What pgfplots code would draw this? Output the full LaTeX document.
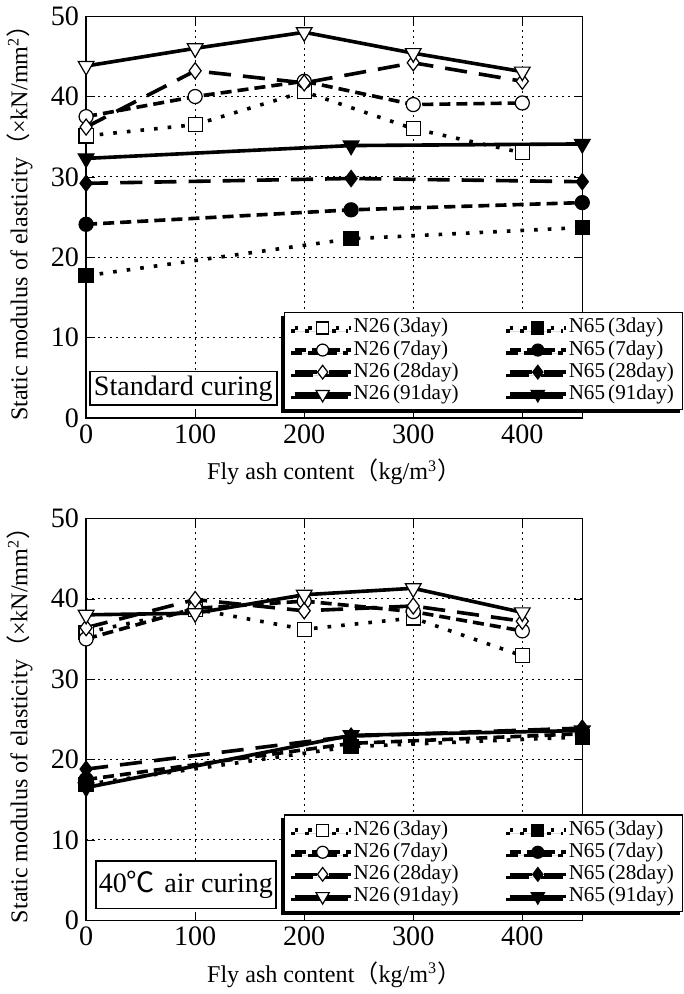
\documentclass[border=0pt]{standalone}
\usepackage{pgfplots}
\pgfplotsset{compat=1.18}
\usepackage{fontspec}
\setmainfont{Liberation Serif}
\newfontfamily\cjk{Noto Sans CJK JP}
\usetikzlibrary{shadows}

\newcommand{\lt}[2]{N#1\hspace{0.15em}(#2day)}

\pgfplotsset{
  s3/.style={black, line width=1.8pt, dash pattern=on 1.8pt off 5pt},
  s7/.style={black, line width=1.8pt, dash pattern=on 5.5pt off 3pt},
  s28/.style={black, line width=1.8pt, dash pattern=on 11pt off 6pt},
  s91/.style={black, line width=1.8pt, solid},
  open/.style={mark options={solid, line width=0.6pt, draw=black, fill=white}},
  full/.style={mark options={solid, line width=0.6pt, draw=black, fill=black}},
  opentri/.style={mark options={solid, line width=0.6pt, draw=black, fill=white, rotate=180}},
  fulltri/.style={mark options={solid, line width=0.6pt, draw=black, fill=black, rotate=180}},
  panel/.style={
    scale only axis,
    width=247pt, height=200pt,
    xmin=0, xmax=455, ymin=0, ymax=50,
    xtick={0,100,200,300,400},
    ytick={0,10,20,30,40,50},
    grid=major,
    major grid style={black, line width=0.5pt, dash pattern=on 1pt off 2pt},
    axis line style={black, line width=0.6pt},
    tick style={black},
    tick align=inside,
    /pgf/number format/assume math mode=true,
    tick label style={font=\fontsize{14}{16}\selectfont},
    label style={font=\fontsize{12}{14}\selectfont},
    xlabel={Fly ash content{\cjk （}kg/m\textsuperscript{3}{\cjk ）}},
    ylabel={Static modulus of elasticity{\cjk （}×kN/mm\textsuperscript{2}{\cjk ）}},
    xlabel style={at={(axis description cs:0.5,-0.135)}, anchor=center},
    ylabel style={at={(axis description cs:-0.134,0.5)}, anchor=center},
    legend columns=2,
    legend cell align=left,
    legend image code/.code={\draw[mark repeat=2,mark phase=2,every mark/.append style={scale=0.85}] plot coordinates {(0pt,0pt) (14pt,0pt) (28pt,0pt)};},
    legend style={
      at={(rel axis cs:0.399,0.02)}, anchor=south west,
      draw=black, line width=0.6pt, fill=white,
      drop shadow={shadow xshift=-1.6pt, shadow yshift=-1.6pt, fill=black, opacity=1},
      font=\fontsize{10.5}{10.5}\selectfont,
      row sep=0pt,
      inner xsep=4pt, inner ysep=2pt,
      /tikz/column 2/.style={column sep=24pt},
      nodes={inner sep=0.5pt, text height=7.5pt, text depth=2.5pt}
    },
  }
}

\begin{document}
\begin{tikzpicture}

% ---- Standard curing ----
\begin{axis}[panel]
\addplot[s3, open, mark=square*, mark size=3.5pt] coordinates {(0,35.1) (100,36.5) (200,40.6) (300,36.0) (400,33.0)};
\addlegendentry{\lt{26}{3}}
\addplot[s3, full, mark=square*, mark size=3.5pt] coordinates {(0,17.7) (243,22.3) (455,23.7)};
\addlegendentry{\lt{65}{3}}
\addplot[s7, open, mark=*, mark size=3.5pt] coordinates {(0,37.5) (100,40.0) (200,41.9) (300,39.0) (400,39.2)};
\addlegendentry{\lt{26}{7}}
\addplot[s7, full, mark=*, mark size=3.5pt] coordinates {(0,24.1) (243,25.9) (455,26.8)};
\addlegendentry{\lt{65}{7}}
\addplot[s28, open, mark=diamond*, mark size=4pt] coordinates {(0,36.2) (100,43.2) (200,41.7) (300,44.2) (400,41.9)};
\addlegendentry{\lt{26}{28}}
\addplot[s28, full, mark=diamond*, mark size=4pt] coordinates {(0,29.2) (243,29.8) (455,29.4)};
\addlegendentry{\lt{65}{28}}
\addplot[s91, opentri, mark=triangle*, mark size=4.5pt] coordinates {(0,43.8) (100,46.0) (200,48.0) (300,45.4) (400,43.1)};
\addlegendentry{\lt{26}{91}}
\addplot[s91, fulltri, mark=triangle*, mark size=4.5pt] coordinates {(0,32.3) (243,33.9) (455,34.1)};
\addlegendentry{\lt{65}{91}}
\node[draw=black, line width=0.8pt, fill=white, anchor=south west, inner sep=2pt,
      font=\fontsize{14}{16}\selectfont] at (rel axis cs:0.006,0.03) {Standard curing};
\end{axis}

% ---- 40 C air curing ----
\begin{axis}[panel, at={(0,-250pt)}]
\addplot[s3, open, mark=square*, mark size=3.5pt] coordinates {(0,35.8) (100,38.7) (200,36.2) (300,37.6) (400,32.9)};
\addlegendentry{\lt{26}{3}}
\addplot[s3, full, mark=square*, mark size=3.5pt] coordinates {(0,16.9) (243,21.6) (455,22.8)};
\addlegendentry{\lt{65}{3}}
\addplot[s7, open, mark=*, mark size=3.5pt] coordinates {(0,35.0) (100,38.8) (200,39.7) (300,38.4) (400,36.0)};
\addlegendentry{\lt{26}{7}}
\addplot[s7, full, mark=*, mark size=3.5pt] coordinates {(0,17.5) (243,22.0) (455,23.2)};
\addlegendentry{\lt{65}{7}}
\addplot[s28, open, mark=diamond*, mark size=4pt] coordinates {(0,36.4) (100,39.9) (200,38.5) (300,39.1) (400,37.2)};
\addlegendentry{\lt{26}{28}}
\addplot[s28, full, mark=diamond*, mark size=4pt] coordinates {(0,18.8) (243,22.9) (455,23.9)};
\addlegendentry{\lt{65}{28}}
\addplot[s91, opentri, mark=triangle*, mark size=4.5pt] coordinates {(0,38.0) (100,38.2) (200,40.5) (300,41.3) (400,38.3)};
\addlegendentry{\lt{26}{91}}
\addplot[s91, fulltri, mark=triangle*, mark size=4.5pt] coordinates {(0,16.5) (243,23.0) (455,23.6)};
\addlegendentry{\lt{65}{91}}
\node[draw=black, line width=0.8pt, fill=white, anchor=south west, inner xsep=1.5pt, inner ysep=5pt,
      font=\fontsize{14}{16}\selectfont] at (rel axis cs:0.018,0.027) {40{\cjk ℃}\,\,air curing};
\end{axis}

\end{tikzpicture}
\end{document}
